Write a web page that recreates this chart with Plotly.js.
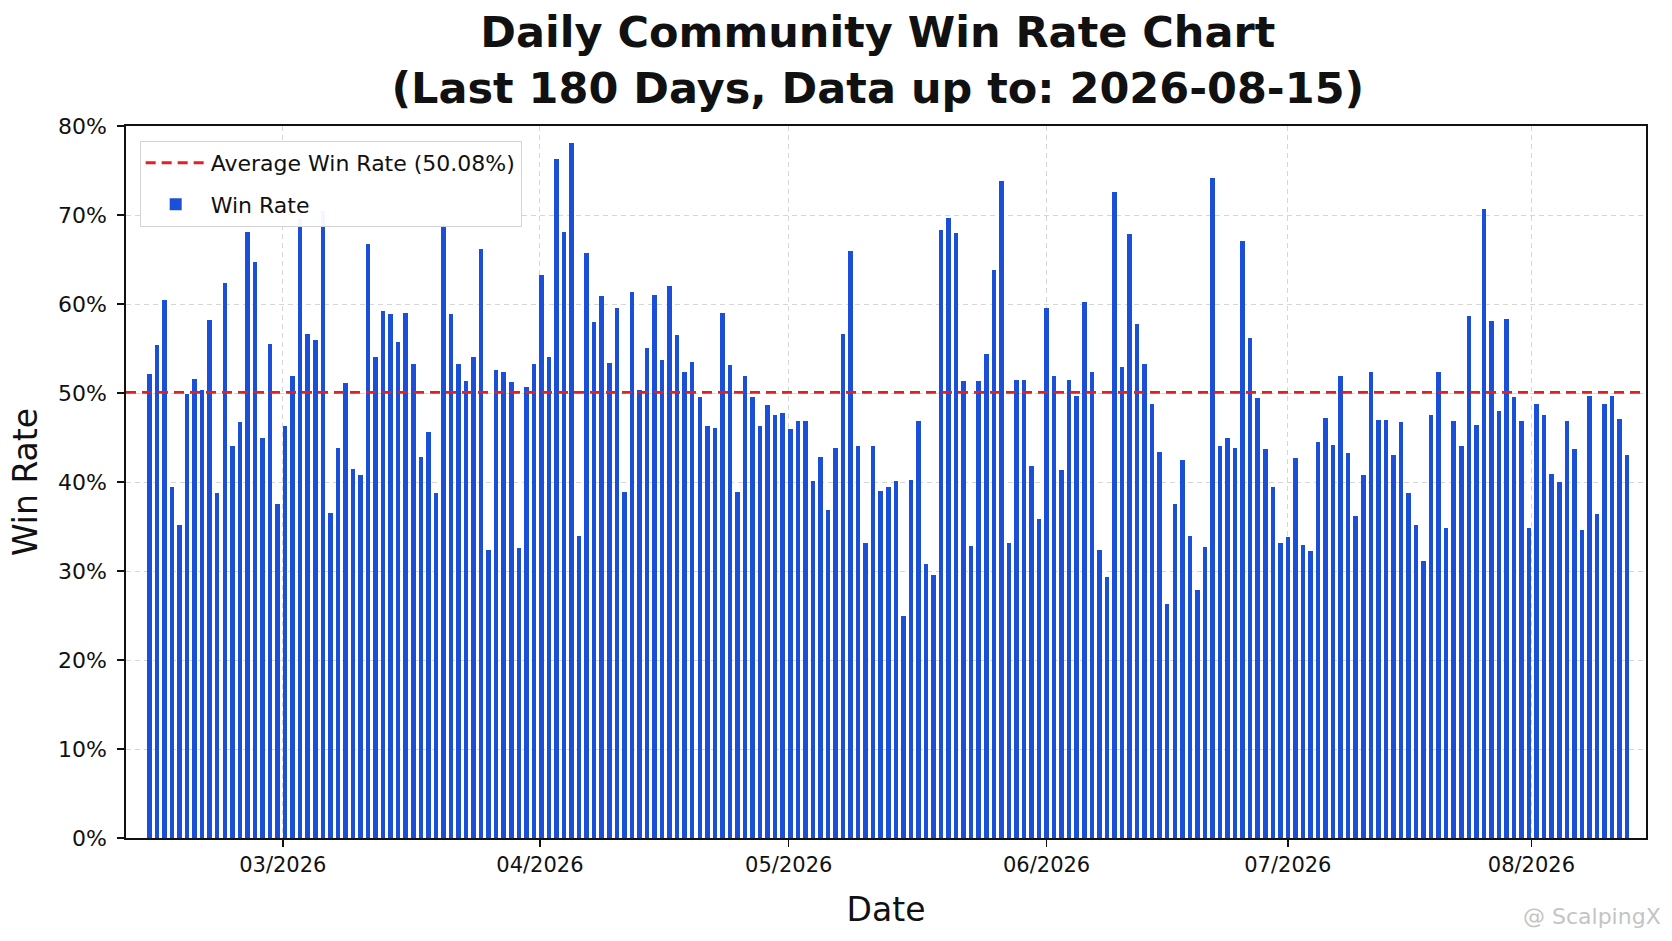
<!DOCTYPE html>
<html>
<head>
<meta charset="utf-8">
<script src="https://cdn.plot.ly/plotly-3.0.1.min.js"></script>
<style>
  html, body { margin: 0; padding: 0; background: #fff; }
  #chart { width: 1672px; height: 941px; }
</style>
</head>
<body>
<div id="chart"></div>
<script>
// daily win rate (%), one bar per day left to right
const winRate = [
    52.1, 55.4, 60.4, 39.4, 35.2, 49.9, 51.6, 50.3, 58.2, 38.8,
    62.4, 44.0, 46.7, 68.1, 64.7, 44.9, 55.5, 37.5, 46.3, 51.9,
    69.5, 56.6, 55.9, 70.5, 36.5, 43.8, 51.1, 41.5, 40.8, 66.7,
    54.0, 59.2, 58.9, 55.7, 59.0, 53.3, 42.8, 45.6, 38.8, 69.0,
    58.9, 53.3, 51.3, 54.0, 66.2, 32.4, 52.6, 52.4, 51.2, 32.6,
    50.7, 53.3, 63.3, 54.1, 76.3, 68.1, 78.1, 33.9, 65.7, 58.0,
    60.9, 53.4, 59.6, 38.9, 61.4, 50.3, 55.1, 61.0, 53.7, 62.0,
    56.5, 52.4, 53.5, 49.5, 46.3, 46.1, 59.0, 53.2, 38.9, 51.9,
    49.5, 46.3, 48.7, 47.5, 47.8, 45.9, 46.9, 46.8, 40.1, 42.8,
    36.8, 43.8, 56.6, 65.9, 44.1, 33.2, 44.0, 39.0, 39.4, 40.1,
    24.9, 40.2, 46.8, 30.8, 29.6, 68.3, 69.7, 68.0, 51.4, 32.8,
    51.4, 54.4, 63.8, 73.8, 33.2, 51.5, 51.5, 41.8, 35.8, 59.6,
    51.9, 41.3, 51.5, 49.7, 60.2, 52.4, 32.4, 29.3, 72.6, 52.9,
    67.9, 57.7, 53.3, 48.8, 43.4, 26.3, 37.5, 42.5, 33.9, 27.9,
    32.7, 74.2, 44.1, 45.0, 43.8, 67.1, 56.2, 49.4, 43.7, 39.4,
    33.1, 33.8, 42.7, 32.9, 32.2, 44.5, 47.2, 44.2, 51.9, 43.3,
    36.2, 40.8, 52.4, 47.0, 47.0, 43.0, 46.7, 38.8, 35.2, 31.1,
    47.5, 52.4, 34.8, 46.8, 44.1, 58.6, 46.4, 70.7, 58.1, 48.0,
    58.3, 49.6, 46.8, 34.8, 48.8, 47.5, 40.9, 40.0, 46.9, 43.7,
    34.6, 49.7, 36.4, 48.8, 49.7, 47.1, 43.0
]

const avgWinRate = 50.08
const monthLabels = ["03/2026", "04/2026", "05/2026", "06/2026", "07/2026", "08/2026"]
const yTickLabels = ["0%", "10%", "20%", "30%", "40%", "50%", "60%", "70%", "80%"]

const FONT = "DejaVu Sans"
const xRange = [-3.1, 198.5]

let days = winRate.map((v, i) => i)

let bars = {
    x: days,
    y: winRate,
    type: "bar",
    name: "Win Rate",
    width: 0.6,
    marker: { color: "#1c4fd8", line: { width: 0 } },
    legendgroup: "b",
    legendrank: 2,
    hoverinfo: "skip"
}

// average line across the whole axis
let avgLine = {
    x: xRange,
    y: [avgWinRate, avgWinRate],
    type: "scatter",
    mode: "lines",
    name: "Average Win Rate (" + avgWinRate.toFixed(2) + "%)",
    line: { color: "#e3201f", width: 2.8, dash: "10px,6px" },
    legendgroup: "a",
    legendrank: 1,
    hoverinfo: "skip"
}

let layout = {
    width: 1672, height: 941,
    margin: { l: 126, r: 26, t: 126, b: 103 },
    paper_bgcolor: "#ffffff",
    plot_bgcolor: "#ffffff",
    font: { family: FONT, color: "#111" },
    title: {
        text: "<b>Daily Community Win Rate Chart<br>(Last 180 Days, Data up to: 2026-08-15)</b>",
        font: { family: FONT, size: 43, color: "#111" },
        x: 0.525, xanchor: "center",
        yref: "container", y: 0.950, yanchor: "middle"
    },
    bargap: 0,
    showlegend: true,
    legend: {
        x: 0.009, y: 0.979, xanchor: "left", yanchor: "top",
        bgcolor: "rgba(255,255,255,0.95)",
        bordercolor: "#d4d4d4", borderwidth: 1,
        font: { family: FONT, size: 22, color: "#111" },
        traceorder: "grouped", tracegroupgap: 10,
        itemwidth: 60
    },
    xaxis: {
        range: xRange,
        tickmode: "array",
        tickvals: [17.7, 51.8, 84.8, 119.0, 151.0, 183.3],
        ticktext: monthLabels,
        ticks: "outside", ticklen: 7, tickwidth: 1.4, tickcolor: "#111",
        tickfont: { family: FONT, size: 21, color: "#111" },
        showline: true, linecolor: "#111", linewidth: 1.6, mirror: true,
        showgrid: true, gridcolor: "#d6d6d6", griddash: "5px,4px", gridwidth: 1,
        zeroline: false,
        title: { text: "Date", font: { family: FONT, size: 33, color: "#111" }, standoff: 22 }
    },
    yaxis: {
        range: [0, 80],
        tickmode: "array",
        tickvals: [0, 10, 20, 30, 40, 50, 60, 70, 80],
        ticktext: yTickLabels,
        ticks: "outside", ticklen: 7, tickwidth: 1.4, tickcolor: "#111",
        ticklabelstandoff: 6,
        tickfont: { family: FONT, size: 22, color: "#111" },
        showline: true, linecolor: "#111", linewidth: 1.6, mirror: true,
        showgrid: true, gridcolor: "#d6d6d6", griddash: "5px,4px", gridwidth: 1,
        zeroline: false,
        title: { text: "Win Rate", font: { family: FONT, size: 33, color: "#111" }, standoff: 10 }
    },
    annotations: [{
        text: "@ ScalpingX",
        xref: "paper", yref: "paper",
        x: 1.011, y: -0.11, xanchor: "right", yanchor: "middle",
        showarrow: false,
        font: { family: FONT, size: 22, color: "#c4c4c4" }
    }]
}

Plotly.newPlot("chart", [bars, avgLine], layout, { displayModeBar: false, staticPlot: true })
</script>
</body>
</html>
